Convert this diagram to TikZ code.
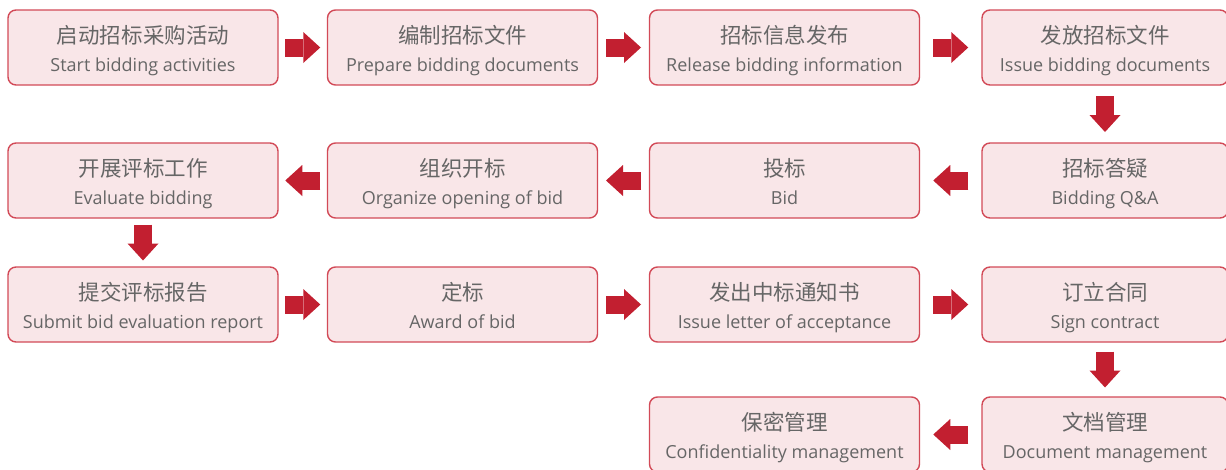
\documentclass[tikz,border=0pt]{standalone}
\usepackage{fontspec}
\setmainfont{Open Sans}
\newfontfamily\cjkf{Noto Sans CJK SC}
\usetikzlibrary{arrows.meta,calc}
\definecolor{boxfill}{HTML}{F9E6E8}
\definecolor{boxline}{HTML}{D24A57}
\definecolor{arrred}{HTML}{C21F30}
\definecolor{txt}{HTML}{666666}
\newcommand\bi[2]{{\cjkf\fontsize{21.5}{21}\selectfont\rule{0pt}{24pt}#1}\\[2pt]{\rule[-5pt]{0pt}{5pt}#2}}
\begin{document}
\begin{tikzpicture}[x=1pt,y=-1pt,
  stepbox/.style={draw=boxline, line width=1.4pt, fill=boxfill, rounded corners=8pt,
    minimum width=270pt, minimum height=75pt, inner sep=0pt, align=center,
    text=txt, font=\fontsize{18}{26}\selectfont},
  lastcol/.style={minimum width=246pt},
  blk/.style={arrred, line width=18pt, -{Triangle[width=31pt,length=17pt,line width=0pt]}}]
\useasboundingbox (0,0) rectangle (1226,469);
\clip (0,0) rectangle (1226,469);
% row 1
\node[stepbox] (a1) at (143,47.5) {\bi{启动招标采购活动}{Start bidding activities}};
\node[stepbox] (a2) at (462.5,47.5) {\bi{编制招标文件}{Prepare bidding documents}};
\node[stepbox] (a3) at (784.5,47.5) {\bi{招标信息发布}{Release bidding information}};
\node[stepbox,lastcol] (a4) at (1105,47.5) {\bi{发放招标文件}{Issue bidding documents}};
% row 2
\node[stepbox] (b1) at (143,180.5) {\bi{开展评标工作}{Evaluate bidding}};
\node[stepbox] (b2) at (462.5,180.5) {\bi{组织开标}{Organize opening of bid}};
\node[stepbox] (b3) at (784.5,180.5) {\bi{投标}{Bid}};
\node[stepbox,lastcol] (b4) at (1105,180.5) {\bi{招标答疑}{Bidding Q\&A}};
% row 3
\node[stepbox] (c1) at (143,304.5) {\bi{提交评标报告}{Submit bid evaluation report}};
\node[stepbox] (c2) at (462.5,304.5) {\bi{定标}{Award of bid}};
\node[stepbox] (c3) at (784.5,304.5) {\bi{发出中标通知书}{Issue letter of acceptance}};
\node[stepbox,lastcol] (c4) at (1105,304.5) {\bi{订立合同}{Sign contract}};
% row 4
\node[stepbox] (d3) at (784.5,434.5) {\bi{保密管理}{Confidentiality management}};
\node[stepbox,lastcol] (d4) at (1105,434.5) {\bi{文档管理}{Document management}};
% arrows
\newcommand\rarr[2]{\draw[blk] ($(#1.east)!0.5!(#2.west)+(-17.5,0)$) -- ($(#1.east)!0.5!(#2.west)+(17.5,0)$);}
\newcommand\larr[2]{\draw[blk] ($(#1.west)!0.5!(#2.east)+(17.5,0)$) -- ($(#1.west)!0.5!(#2.east)+(-17.5,0)$);}
\newcommand\darr[2]{\draw[blk] ($(#1.south)!0.5!(#2.north)+(0,-18)$) -- ($(#1.south)!0.5!(#2.north)+(0,18)$);}
\rarr{a1}{a2}
\rarr{a2}{a3}
\rarr{a3}{a4}
\darr{a4}{b4}
\larr{b4}{b3}
\larr{b3}{b2}
\larr{b2}{b1}
\darr{b1}{c1}
\rarr{c1}{c2}
\rarr{c2}{c3}
\rarr{c3}{c4}
\darr{c4}{d4}
\larr{d4}{d3}
\end{tikzpicture}
\end{document}
